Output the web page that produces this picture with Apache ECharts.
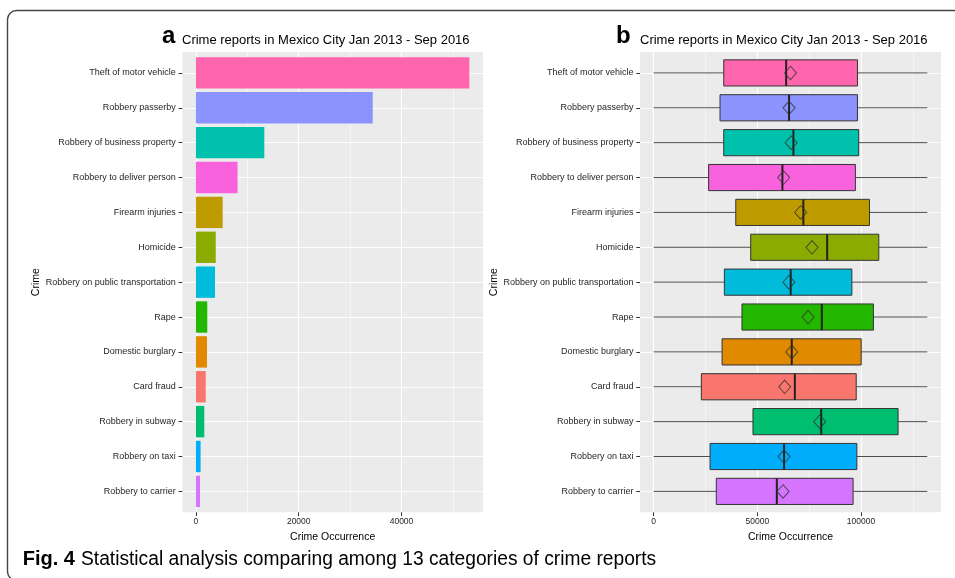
<!DOCTYPE html>
<html>
<head>
<meta charset="utf-8">
<script src="https://cdn.jsdelivr.net/npm/echarts@6/dist/echarts.min.js"></script>
<style>
  html, body { margin: 0; padding: 0; background: #fff; }
  #chart { width: 955px; height: 578px; }
</style>
</head>
<body>
<div id="chart"></div>
<script>
// Crime categories, top to bottom
const crimes = [
  'Theft of motor vehicle', 'Robbery passerby', 'Robbery of business property',
  'Robbery to deliver person', 'Firearm injuries', 'Homicide',
  'Robbery on public transportation', 'Rape', 'Domestic burglary', 'Card fraud',
  'Robbery in subway', 'Robbery on taxi', 'Robbery to carrier'
];
// Panel a: total reports per category
const totals = [53200, 34400, 13300, 8100, 5200, 3850, 3700, 2200, 2150, 1900, 1620, 900, 780];
// Panel b: distribution summary per category
const boxMin    = [0, 0, 0, 0, 0, 0, 0, 0, 0, 0, 0, 0, 0];
const boxQ1     = [33800, 32000, 33800, 26500, 39600, 46800, 34100, 42600, 33000, 23000, 47900, 27200, 30200];
const boxMedian = [63900, 65300, 67400, 62100, 72200, 83700, 66100, 81100, 66600, 68100, 80800, 62900, 59400];
const boxQ3     = [98300, 98300, 98900, 97300, 104100, 108600, 95600, 106000, 100100, 97700, 117900, 98000, 96200];
const boxMax    = [132000, 132000, 132000, 132000, 132000, 132000, 132000, 132000, 132000, 132000, 132000, 132000, 132000];
const boxMean   = [66000, 65300, 66300, 62700, 70900, 76400, 65200, 74500, 66600, 63200, 80100, 62900, 62400];
// Fill colour per category
const colors = ['#FF65AC', '#8B93FF', '#00C1AB', '#F962DD', '#BE9C00', '#8CAB00', '#00BBDA',
                '#24B700', '#E18A00', '#F8766D', '#00BE70', '#00ACFC', '#D575FE'];
// Axis breaks
const ticksA = [0, 20000, 40000];
const minorA = [10000, 30000, 50000];
const ticksB = [0, 50000, 100000];
const minorB = [25000, 75000, 125000];

// Panel rectangles (pixels)
const PA = { left: 182.3, top: 52, width: 300.7, height: 460.3 };
const PB = { left: 640, top: 52, width: 301, height: 460.3 };
const n = crimes.length;
const pad = 0.6;                       // discrete axis padding, in category units
const unit = PA.height / (n - 1 + 2 * pad);
const inset = (pad - 0.5) * unit;      // gap between panel edge and category bands

// Continuous axis ranges with 5% padding
const aHi = Math.max(...totals);
const aMin = -0.05 * aHi, aMax = aHi * 1.05;
const bLo = Math.min(...boxMin), bHi = Math.max(...boxMax);
const bMin = bLo - 0.05 * (bHi - bLo), bMax = bHi + 0.05 * (bHi - bLo);

const FONT = 'Liberation Sans';
const labelGrey = '#262626';
const idx = crimes.map((_, i) => i);

function bgGrid(p) {
  return { left: p.left, top: p.top, width: p.width, height: p.height,
           show: true, backgroundColor: '#EBEBEB', borderWidth: 0 };
}
function dataGrid(p) {
  return { left: p.left, top: p.top + inset, width: p.width, height: p.height - 2 * inset };
}
function majorX(grid, min, max, ticks) {
  return {
    gridIndex: grid, type: 'value', min, max, position: 'bottom',
    axisLine: { show: false, onZero: false },
    axisTick: { show: true, customValues: ticks, length: 3.7, lineStyle: { color: '#333', width: 1 } },
    axisLabel: { customValues: ticks, color: labelGrey, fontSize: 8.5, margin: 5, fontFamily: FONT,
                 formatter: v => String(v) },
    splitLine: { show: true, lineStyle: { color: '#fff', width: 1.1 } },
    name: 'Crime Occurrence', nameLocation: 'middle', nameGap: 16,
    nameTextStyle: { color: '#000', fontSize: 10.5, fontFamily: FONT }
  };
}
function minorX(grid, min, max, ticks) {
  return {
    gridIndex: grid, type: 'value', min, max, position: 'bottom',
    axisLine: { show: false, onZero: false },
    axisTick: { show: false, customValues: ticks },
    axisLabel: { show: false },
    splitLine: { show: true, lineStyle: { color: '#fff', width: 0.55 } }
  };
}
function hiddenX(grid, min, max) {
  return { gridIndex: grid, type: 'value', min, max, show: false, axisLine: { onZero: false } };
}
function rowLinesY(grid) {
  return {
    gridIndex: grid, type: 'value', inverse: true, min: -pad, max: n - 1 + pad,
    axisLine: { show: false, onZero: false },
    axisTick: { show: false, customValues: idx },
    axisLabel: { show: false },
    splitLine: { show: true, lineStyle: { color: '#fff', width: 1.1 } }
  };
}
function categoryY(grid) {
  return {
    gridIndex: grid, type: 'category', data: crimes, inverse: true, position: 'left',
    axisLine: { show: false, onZero: false },
    axisTick: { show: true, alignWithLabel: true, length: 3.7, lineStyle: { color: '#333', width: 1 } },
    axisLabel: { color: labelGrey, fontSize: 9, margin: 6.5, fontFamily: FONT },
    splitLine: { show: false },
    name: 'Crime', nameLocation: 'middle', nameGap: 134,
    nameTextStyle: { color: '#000', fontSize: 10.5, fontFamily: FONT }
  };
}

// Box with whiskers, drawn on the value/category scales of panel b
function renderBox(params, api) {
  const i = api.value(0);
  const pMin = api.coord([api.value(1), i]);
  const pQ1 = api.coord([api.value(2), i]);
  const pMed = api.coord([api.value(3), i]);
  const pQ3 = api.coord([api.value(4), i]);
  const pMax = api.coord([api.value(5), i]);
  const h = api.size([0, 1])[1] * 0.75;
  const y = pMed[1];
  const line = { stroke: '#4d4d4d', lineWidth: 1 };
  return {
    type: 'group',
    children: [
      { type: 'line', shape: { x1: pMin[0], y1: y, x2: pQ1[0], y2: y }, style: line },
      { type: 'line', shape: { x1: pQ3[0], y1: y, x2: pMax[0], y2: y }, style: line },
      { type: 'rect', shape: { x: pQ1[0], y: y - h / 2, width: pQ3[0] - pQ1[0], height: h },
        style: { fill: colors[i], stroke: '#333', lineWidth: 1 } },
      { type: 'line', shape: { x1: pMed[0], y1: y - h / 2, x2: pMed[0], y2: y + h / 2 },
        style: { stroke: '#222', lineWidth: 2 } }
    ]
  };
}

function txt(x, y, text, font, extra) {
  return Object.assign({
    type: 'text', x, y, silent: true,
    style: { text, font, fill: '#000', align: 'left', verticalAlign: 'middle',
             textAlign: 'left', textVerticalAlign: 'middle' }
  }, extra || {});
}

const chart = echarts.init(document.getElementById('chart'), null, { renderer: 'canvas' });
chart.setOption({
  animation: false,
  backgroundColor: '#fff',
  textStyle: { fontFamily: FONT },
  grid: [bgGrid(PA), dataGrid(PA), bgGrid(PB), dataGrid(PB)],
  xAxis: [
    majorX(0, aMin, aMax, ticksA), minorX(0, aMin, aMax, minorA), hiddenX(1, aMin, aMax),
    majorX(2, bMin, bMax, ticksB), minorX(2, bMin, bMax, minorB), hiddenX(3, bMin, bMax)
  ],
  yAxis: [rowLinesY(0), categoryY(1), rowLinesY(2), categoryY(3)],
  series: [
    {
      type: 'bar', xAxisIndex: 2, yAxisIndex: 1, barWidth: '90%', silent: true,
      data: totals.map((v, i) => ({ value: v, itemStyle: { color: colors[i] } }))
    },
    {
      type: 'custom', xAxisIndex: 5, yAxisIndex: 3, silent: true,
      renderItem: renderBox,
      encode: { x: [1, 2, 3, 4, 5], y: 0 },
      data: crimes.map((c, i) => [i, boxMin[i], boxQ1[i], boxMedian[i], boxQ3[i], boxMax[i]])
    },
    {
      type: 'scatter', xAxisIndex: 5, yAxisIndex: 3, silent: true, z: 5,
      symbol: 'diamond', symbolSize: [12, 13.5],
      itemStyle: { color: 'rgba(0,0,0,0)', borderColor: '#333', borderWidth: 1 },
      data: boxMean.map((m, i) => [m, i])
    }
  ],
  graphic: [
    { type: 'rect', silent: true, shape: { x: 7.5, y: 10.5, width: 1000, height: 570, r: 9 },
      style: { fill: 'none', stroke: '#444', lineWidth: 1.4 } },
    txt(162, 36.5, 'a', 'bold 24px "Liberation Sans"'),
    txt(182, 40.5, 'Crime reports in Mexico City Jan 2013 - Sep 2016', '13px "Liberation Sans"'),
    txt(616, 36.5, 'b', 'bold 24px "Liberation Sans"'),
    txt(640, 40.5, 'Crime reports in Mexico City Jan 2013 - Sep 2016', '13px "Liberation Sans"'),
    txt(22.7, 559.8, 'Fig. 4', 'bold 20px "Liberation Sans"'),
    txt(81, 559.8, 'Statistical analysis comparing among 13 categories of crime reports',
        '20px "Liberation Sans"', { scaleX: 0.96 })
  ]
});
</script>
</body>
</html>
